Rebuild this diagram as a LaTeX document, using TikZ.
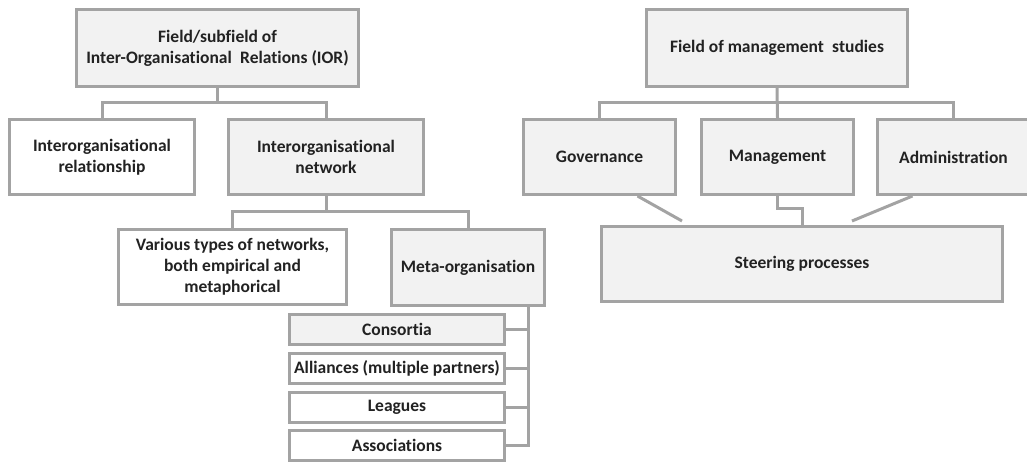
\documentclass[tikz,border=0pt]{standalone}
\usepackage{fontspec}
\setmainfont{Carlito}[Ligatures={NoCommon}]
\usepackage{tikz}
\usetikzlibrary{positioning}
\definecolor{boxgray}{HTML}{F2F2F2}
\definecolor{linegray}{HTML}{A3A3A3}
\definecolor{txt}{HTML}{222222}

\tikzset{
  box/.style={draw=linegray, line width=3pt, rectangle, align=center, inner sep=2pt,
    font=\fontsize{17.5}{21}\selectfont\bfseries, text=txt},
  grey/.style={box, fill=boxgray},
  plain/.style={box, fill=white},
  link/.style={draw=linegray, line width=3pt}
}

\begin{document}
\begin{tikzpicture}[x=1pt,y=-1pt]
\useasboundingbox (0,0) rectangle (1027,462);
% left tree
\node[grey, minimum width=282, minimum height=77] (ior) at (217.5,48) {Field/subfield of\\Inter-Organisational\hspace{0.25em} Relations (IOR)};
\node[plain, minimum width=185, minimum height=75] (rel) at (102,157) {Interorganisational\\relationship};
\node[grey, minimum width=195, minimum height=75] (net) at (326,157) {Interorganisational\\network};
\draw[link] (ior.south) -- ++(0,15) -| (rel.north);
\draw[link] (ior.south) ++(0,15) -| (net.north);
\node[plain, minimum width=228, minimum height=75] (var) at (232.5,267) {Various types of networks,\\both empirical and\\metaphorical};
\node[grey, minimum width=153, minimum height=76] (meta) at (468,267.5) {Meta-organisation};
\draw[link] (net.south) -- ++(0,16) -| (var.north);
\draw[link] (net.south) ++(0,16) -| (meta.north);
% list under meta-organisation
\node[grey, minimum width=215, minimum height=30] (cons) at (397,329.5) {Consortia};
\node[plain, minimum width=215, minimum height=30] (alli) at (397,368.5) {Alliances (multiple partners)};
\node[plain, minimum width=215, minimum height=30] (leag) at (397,407.5) {Leagues};
\node[plain, minimum width=215, minimum height=30] (asso) at (397,445.5) {Associations};
\coordinate (trunk) at ([xshift=60pt]meta.south);
\draw[link] (trunk) |- (asso.east);
\foreach \b in {cons,alli,leag}
  \draw[link] (\b.east) -- (\b.east -| trunk);
% right tree
\node[grey, minimum width=261, minimum height=77] (fms) at (777,48) {Field of management\hspace{0.25em} studies};
\node[grey, minimum width=152, minimum height=75] (gov) at (599.5,157) {Governance};
\node[grey, minimum width=152, minimum height=75] (man) at (777.5,157) {Management};
\node[grey, minimum width=152, minimum height=75] (adm) at (953.5,157) {Administration};
\draw[link] (fms.south) -- (man.north);
\draw[link] (fms.south) ++(0,15) -| (gov.north);
\draw[link] (fms.south) ++(0,15) -| (adm.north);
\node[grey, minimum width=401, minimum height=75] (steer) at (802,264) {Steering processes};
\draw[link] ([xshift=38pt]gov.south) -- ([xshift=-120pt,yshift=4pt]steer.north);
\draw[link] (man.south) -- ++(0,13) -| (steer.north);
\draw[link] ([xshift=-41pt]adm.south) -- ([xshift=50pt,yshift=4pt]steer.north);
\end{tikzpicture}
\end{document}
